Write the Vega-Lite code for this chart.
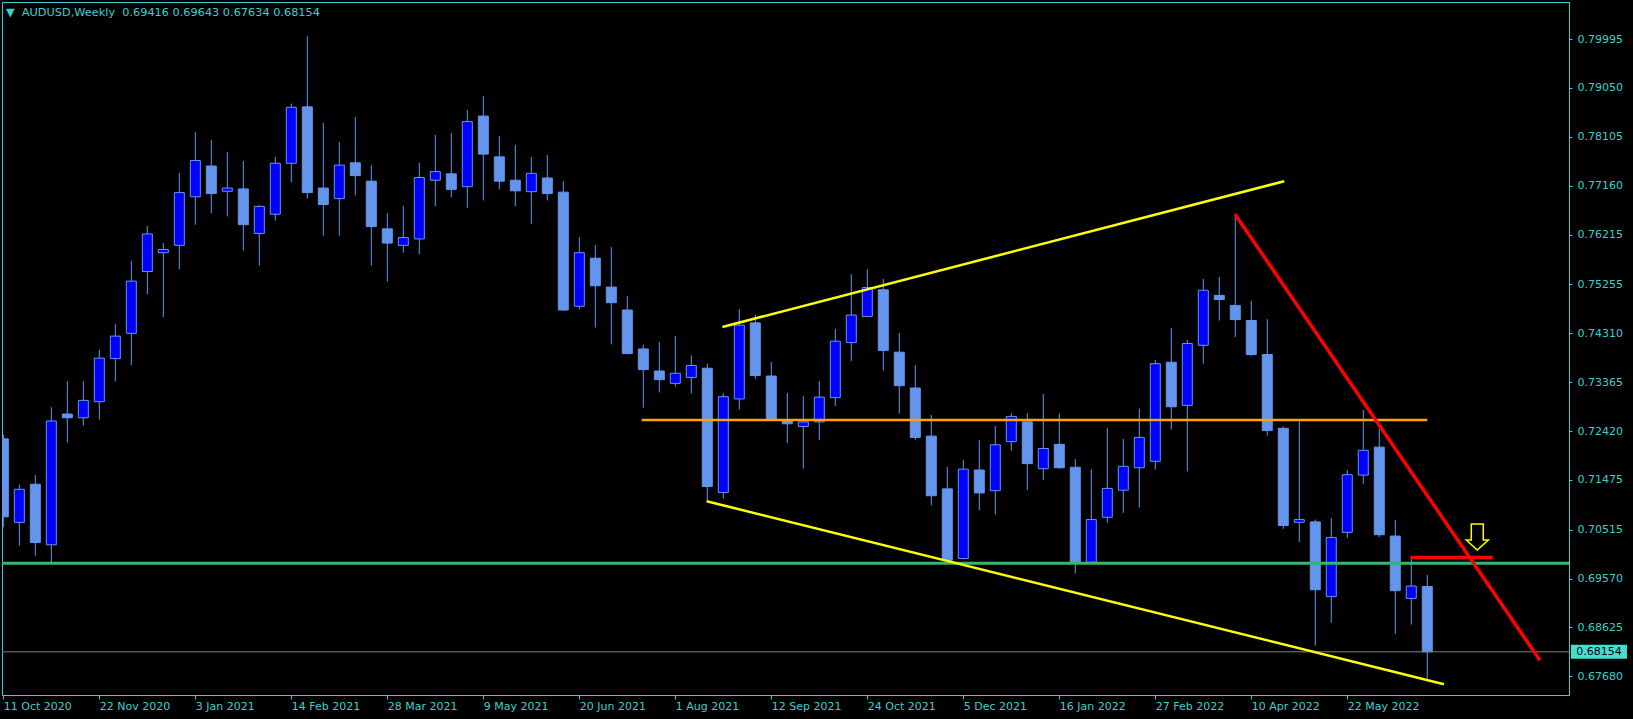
{
  "$schema": "https://vega.github.io/schema/vega-lite/v6.json",
  "width": 1567,
  "height": 693,
  "autosize": {"type": "none"},
  "padding": {"left": 2, "top": 2, "right": 64, "bottom": 24},
  "background": "#000000",
  "title": {
    "text": "▼\u00a0\u00a0AUDUSD,Weekly\u00a0\u00a00.69416 0.69643 0.67634 0.68154",
    "anchor": "start",
    "frame": "group",
    "orient": "top",
    "offset": -22,
    "dx": 4,
    "baseline": "middle",
    "font": "DejaVu Sans",
    "fontSize": 11.3,
    "fontWeight": "normal",
    "color": "#3ccfcf"
  },
  "config": {
    "view": {"stroke": "#3ccfcf", "strokeWidth": 1},
    "axis": {
      "labelFont": "DejaVu Sans",
      "labelFontSize": 11,
      "labelColor": "#3ccfcf",
      "domainColor": "#3ccfcf",
      "tickColor": "#3ccfcf",
      "grid": false,
      "title": null
    }
  },
  "datasets": {
    "candles": [
      {"d": "2020-10-11", "o": 0.72269, "h": 0.72349, "l": 0.70559, "c": 0.70763},
      {"d": "2020-10-18", "o": 0.70656, "h": 0.71387, "l": 0.70205, "c": 0.71294},
      {"d": "2020-10-25", "o": 0.71392, "h": 0.71569, "l": 0.70010, "c": 0.70267},
      {"d": "2020-11-01", "o": 0.70222, "h": 0.72880, "l": 0.69886, "c": 0.72615},
      {"d": "2020-11-08", "o": 0.72748, "h": 0.73385, "l": 0.72198, "c": 0.72677},
      {"d": "2020-11-15", "o": 0.72677, "h": 0.73385, "l": 0.72526, "c": 0.73013},
      {"d": "2020-11-22", "o": 0.72987, "h": 0.73988, "l": 0.72641, "c": 0.73829},
      {"d": "2020-11-29", "o": 0.73820, "h": 0.74484, "l": 0.73376, "c": 0.74254},
      {"d": "2020-12-06", "o": 0.74307, "h": 0.75707, "l": 0.73696, "c": 0.75317},
      {"d": "2020-12-13", "o": 0.75503, "h": 0.76380, "l": 0.75060, "c": 0.76229},
      {"d": "2020-12-20", "o": 0.75866, "h": 0.76052, "l": 0.74617, "c": 0.75928},
      {"d": "2020-12-27", "o": 0.76008, "h": 0.77408, "l": 0.75547, "c": 0.77027},
      {"d": "2021-01-03", "o": 0.76947, "h": 0.78196, "l": 0.76407, "c": 0.77647},
      {"d": "2021-01-10", "o": 0.77541, "h": 0.78046, "l": 0.76628, "c": 0.77009},
      {"d": "2021-01-17", "o": 0.77053, "h": 0.77815, "l": 0.76566, "c": 0.77115},
      {"d": "2021-01-24", "o": 0.77098, "h": 0.77638, "l": 0.75910, "c": 0.76407},
      {"d": "2021-01-31", "o": 0.76238, "h": 0.76788, "l": 0.75618, "c": 0.76761},
      {"d": "2021-02-07", "o": 0.76610, "h": 0.77718, "l": 0.76486, "c": 0.77594},
      {"d": "2021-02-14", "o": 0.77594, "h": 0.78746, "l": 0.77222, "c": 0.78675},
      {"d": "2021-02-21", "o": 0.78684, "h": 0.80048, "l": 0.76912, "c": 0.77027},
      {"d": "2021-02-28", "o": 0.77115, "h": 0.78374, "l": 0.76194, "c": 0.76797},
      {"d": "2021-03-07", "o": 0.76912, "h": 0.78001, "l": 0.76194, "c": 0.77558},
      {"d": "2021-03-14", "o": 0.77603, "h": 0.78489, "l": 0.76974, "c": 0.77355},
      {"d": "2021-03-21", "o": 0.77248, "h": 0.77558, "l": 0.75618, "c": 0.76371},
      {"d": "2021-03-28", "o": 0.76327, "h": 0.76628, "l": 0.75308, "c": 0.76052},
      {"d": "2021-04-04", "o": 0.76008, "h": 0.76770, "l": 0.75866, "c": 0.76159},
      {"d": "2021-04-11", "o": 0.76132, "h": 0.77603, "l": 0.75831, "c": 0.77319},
      {"d": "2021-04-18", "o": 0.77266, "h": 0.78143, "l": 0.76761, "c": 0.77434},
      {"d": "2021-04-25", "o": 0.77390, "h": 0.78179, "l": 0.76938, "c": 0.77089},
      {"d": "2021-05-02", "o": 0.77142, "h": 0.78622, "l": 0.76734, "c": 0.78400},
      {"d": "2021-05-09", "o": 0.78506, "h": 0.78896, "l": 0.76876, "c": 0.77771},
      {"d": "2021-05-16", "o": 0.77718, "h": 0.78117, "l": 0.77089, "c": 0.77248},
      {"d": "2021-05-23", "o": 0.77266, "h": 0.77948, "l": 0.76761, "c": 0.77062},
      {"d": "2021-05-30", "o": 0.77045, "h": 0.77718, "l": 0.76424, "c": 0.77399},
      {"d": "2021-06-06", "o": 0.77310, "h": 0.77753, "l": 0.76876, "c": 0.77009},
      {"d": "2021-06-13", "o": 0.77036, "h": 0.77248, "l": 0.74740, "c": 0.74759},
      {"d": "2021-06-20", "o": 0.74830, "h": 0.76168, "l": 0.74768, "c": 0.75866},
      {"d": "2021-06-27", "o": 0.75760, "h": 0.76017, "l": 0.74422, "c": 0.75228},
      {"d": "2021-07-04", "o": 0.75202, "h": 0.75973, "l": 0.74094, "c": 0.74900},
      {"d": "2021-07-11", "o": 0.74759, "h": 0.75024, "l": 0.73900, "c": 0.73917},
      {"d": "2021-07-18", "o": 0.74006, "h": 0.74085, "l": 0.72872, "c": 0.73607},
      {"d": "2021-07-25", "o": 0.73580, "h": 0.74139, "l": 0.73164, "c": 0.73412},
      {"d": "2021-08-01", "o": 0.73341, "h": 0.74254, "l": 0.73279, "c": 0.73536},
      {"d": "2021-08-08", "o": 0.73456, "h": 0.73882, "l": 0.73146, "c": 0.73687},
      {"d": "2021-08-15", "o": 0.73634, "h": 0.73722, "l": 0.71064, "c": 0.71348},
      {"d": "2021-08-22", "o": 0.71232, "h": 0.73146, "l": 0.71117, "c": 0.73084},
      {"d": "2021-08-29", "o": 0.73040, "h": 0.74776, "l": 0.72836, "c": 0.74466},
      {"d": "2021-09-05", "o": 0.74510, "h": 0.74670, "l": 0.73430, "c": 0.73492},
      {"d": "2021-09-12", "o": 0.73483, "h": 0.73757, "l": 0.72620, "c": 0.72632},
      {"d": "2021-09-19", "o": 0.72632, "h": 0.73155, "l": 0.72189, "c": 0.72561},
      {"d": "2021-09-26", "o": 0.72508, "h": 0.73093, "l": 0.71693, "c": 0.72597},
      {"d": "2021-10-03", "o": 0.72597, "h": 0.73385, "l": 0.72242, "c": 0.73075},
      {"d": "2021-10-10", "o": 0.73066, "h": 0.74395, "l": 0.72907, "c": 0.74156},
      {"d": "2021-10-17", "o": 0.74130, "h": 0.75450, "l": 0.73775, "c": 0.74661},
      {"d": "2021-10-24", "o": 0.74635, "h": 0.75547, "l": 0.74620, "c": 0.75193},
      {"d": "2021-10-31", "o": 0.75149, "h": 0.75361, "l": 0.73589, "c": 0.73979},
      {"d": "2021-11-07", "o": 0.73944, "h": 0.74316, "l": 0.72756, "c": 0.73297},
      {"d": "2021-11-14", "o": 0.73252, "h": 0.73695, "l": 0.72251, "c": 0.72296},
      {"d": "2021-11-21", "o": 0.72322, "h": 0.72730, "l": 0.70984, "c": 0.71170},
      {"d": "2021-11-28", "o": 0.71303, "h": 0.71729, "l": 0.69910, "c": 0.69921},
      {"d": "2021-12-05", "o": 0.69957, "h": 0.71861, "l": 0.69940, "c": 0.71684},
      {"d": "2021-12-12", "o": 0.71667, "h": 0.72242, "l": 0.70887, "c": 0.71224},
      {"d": "2021-12-19", "o": 0.71268, "h": 0.72517, "l": 0.70807, "c": 0.72154},
      {"d": "2021-12-26", "o": 0.72216, "h": 0.72765, "l": 0.72039, "c": 0.72703},
      {"d": "2022-01-02", "o": 0.72597, "h": 0.72765, "l": 0.71285, "c": 0.71791},
      {"d": "2022-01-09", "o": 0.71693, "h": 0.73137, "l": 0.71472, "c": 0.72083},
      {"d": "2022-01-16", "o": 0.72163, "h": 0.72756, "l": 0.71693, "c": 0.71711},
      {"d": "2022-01-23", "o": 0.71720, "h": 0.71879, "l": 0.69664, "c": 0.69886},
      {"d": "2022-01-30", "o": 0.69886, "h": 0.71684, "l": 0.69870, "c": 0.70710},
      {"d": "2022-02-06", "o": 0.70754, "h": 0.72482, "l": 0.70647, "c": 0.71312},
      {"d": "2022-02-13", "o": 0.71277, "h": 0.72269, "l": 0.70842, "c": 0.71738},
      {"d": "2022-02-20", "o": 0.71711, "h": 0.72854, "l": 0.70940, "c": 0.72296},
      {"d": "2022-02-27", "o": 0.71835, "h": 0.73793, "l": 0.71675, "c": 0.73722},
      {"d": "2022-03-06", "o": 0.73749, "h": 0.74413, "l": 0.72446, "c": 0.72889},
      {"d": "2022-03-13", "o": 0.72916, "h": 0.74183, "l": 0.71640, "c": 0.74112},
      {"d": "2022-03-20", "o": 0.74077, "h": 0.75361, "l": 0.73722, "c": 0.75140},
      {"d": "2022-03-27", "o": 0.75042, "h": 0.75397, "l": 0.74555, "c": 0.74962},
      {"d": "2022-04-03", "o": 0.74847, "h": 0.76619, "l": 0.74236, "c": 0.74573},
      {"d": "2022-04-10", "o": 0.74555, "h": 0.74936, "l": 0.73873, "c": 0.73899},
      {"d": "2022-04-17", "o": 0.73899, "h": 0.74581, "l": 0.72331, "c": 0.72429},
      {"d": "2022-04-24", "o": 0.72473, "h": 0.72508, "l": 0.70532, "c": 0.70594},
      {"d": "2022-05-01", "o": 0.70657, "h": 0.72615, "l": 0.70275, "c": 0.70710},
      {"d": "2022-05-08", "o": 0.70665, "h": 0.70710, "l": 0.68273, "c": 0.69354},
      {"d": "2022-05-15", "o": 0.69221, "h": 0.70736, "l": 0.68716, "c": 0.70364},
      {"d": "2022-05-22", "o": 0.70462, "h": 0.71667, "l": 0.70355, "c": 0.71578},
      {"d": "2022-05-29", "o": 0.71569, "h": 0.72827, "l": 0.71401, "c": 0.72048},
      {"d": "2022-06-05", "o": 0.72109, "h": 0.72455, "l": 0.70373, "c": 0.70417},
      {"d": "2022-06-12", "o": 0.70391, "h": 0.70701, "l": 0.68503, "c": 0.69336},
      {"d": "2022-06-19", "o": 0.69186, "h": 0.70001, "l": 0.68681, "c": 0.69425},
      {"d": "2022-06-26", "o": 0.69416, "h": 0.69643, "l": 0.67634, "c": 0.68154}
    ],
    "levels": [
      {"name": "support", "p": 0.69865},
      {"name": "last", "p": 0.68154}
    ],
    "lines": [
      {"id": "upper", "d": "2021-08-21T14:00:00Z", "p": 0.74431},
      {"id": "upper", "d": "2022-04-24T10:00:00Z", "p": 0.77248},
      {"id": "lower", "d": "2021-08-14T17:00:00Z", "p": 0.71064},
      {"id": "lower", "d": "2022-07-03T07:00:00Z", "p": 0.67529},
      {"id": "level", "d": "2021-07-17T07:00:00Z", "p": 0.72632},
      {"id": "level", "d": "2022-06-26T00:00:00Z", "p": 0.72632},
      {"id": "downtrend", "d": "2022-04-02T21:00:00Z", "p": 0.76610},
      {"id": "downtrend", "d": "2022-08-14T07:00:00Z", "p": 0.67991},
      {"id": "target", "d": "2022-06-18T17:00:00Z", "p": 0.69975},
      {"id": "target", "d": "2022-07-24T15:00:00Z", "p": 0.69975}
    ],
    "marker": [
      {"d": "2022-07-17T21:00:00Z", "p": 0.70373}
    ],
    "pricebox": [
      {"d": "2022-08-27T00:00:00Z", "p": 0.68154, "label": "0.68154"}
    ]
  },
  "layer": [
    {
      "data": {"name": "candles"},
      "mark": {"type": "rule", "color": "#6495ed", "strokeWidth": 1, "clip": true},
      "encoding": {
        "x": {
          "field": "d",
          "type": "temporal",
          "scale": {
            "type": "utc",
            "padding": 0,
            "domain": [
              {"year": 2020, "month": 10, "date": 10, "hours": 10, "utc": true},
              {"year": 2022, "month": 8, "date": 27, "utc": true}
            ]
          },
          "axis": {
            "orient": "bottom",
            "values": [
              {"year": 2020, "month": 10, "date": 11, "utc": true},
              {"year": 2020, "month": 11, "date": 22, "utc": true},
              {"year": 2021, "month": 1, "date": 3, "utc": true},
              {"year": 2021, "month": 2, "date": 14, "utc": true},
              {"year": 2021, "month": 3, "date": 28, "utc": true},
              {"year": 2021, "month": 5, "date": 9, "utc": true},
              {"year": 2021, "month": 6, "date": 20, "utc": true},
              {"year": 2021, "month": 8, "date": 1, "utc": true},
              {"year": 2021, "month": 9, "date": 12, "utc": true},
              {"year": 2021, "month": 10, "date": 24, "utc": true},
              {"year": 2021, "month": 12, "date": 5, "utc": true},
              {"year": 2022, "month": 1, "date": 16, "utc": true},
              {"year": 2022, "month": 2, "date": 27, "utc": true},
              {"year": 2022, "month": 4, "date": 10, "utc": true},
              {"year": 2022, "month": 5, "date": 22, "utc": true}
            ],
            "labelExpr": "utcFormat(datum.value, '%-d %b %Y')",
            "labelAlign": "left",
            "labelBaseline": "top",
            "labelFlush": false,
            "labelOverlap": false,
            "tickSize": 4,
            "labelPadding": 1
          }
        },
        "y": {
          "field": "l",
          "type": "quantitative",
          "scale": {"domain": [0.6732, 0.8071], "nice": false, "zero": false, "padding": 0},
          "axis": {
            "orient": "right",
            "values": [0.6768, 0.68625, 0.6957, 0.70515, 0.71475, 0.7242, 0.73365, 0.7431, 0.75255, 0.76215, 0.7716, 0.78105, 0.7905, 0.79995],
            "format": ".5f",
            "tickSize": 3,
            "labelPadding": 5,
            "labelBaseline": "middle",
            "labelFlush": false,
            "labelOverlap": false
          }
        },
        "y2": {"field": "h"}
      }
    },
    {
      "data": {"name": "candles"},
      "mark": {"type": "bar", "width": 10, "stroke": "#6495ed", "strokeWidth": 1, "clip": true},
      "encoding": {
        "x": {"field": "d", "type": "temporal"},
        "y": {"field": "o", "type": "quantitative"},
        "y2": {"field": "c"},
        "fill": {
          "condition": {"test": "datum.c >= datum.o", "value": "#0000ff"},
          "value": "#6495ed"
        }
      }
    },
    {
      "data": {"name": "levels"},
      "transform": [{"filter": "datum.name === 'last'"}],
      "mark": {"type": "rule", "color": "#808080", "strokeWidth": 1},
      "encoding": {"y": {"field": "p", "type": "quantitative"}}
    },
    {
      "data": {"name": "levels"},
      "transform": [{"filter": "datum.name === 'support'"}],
      "mark": {"type": "rule", "color": "#3cb371", "strokeWidth": 3},
      "encoding": {"y": {"field": "p", "type": "quantitative"}}
    },
    {
      "data": {"name": "lines"},
      "transform": [{"filter": "datum.id === 'level'"}],
      "mark": {"type": "line", "color": "#ffa500", "strokeWidth": 2.5},
      "encoding": {
        "x": {"field": "d", "type": "temporal"},
        "y": {"field": "p", "type": "quantitative"}
      }
    },
    {
      "data": {"name": "lines"},
      "transform": [{"filter": "datum.id === 'upper' || datum.id === 'lower'"}],
      "mark": {"type": "line", "color": "#ffff00", "strokeWidth": 2.5},
      "encoding": {
        "x": {"field": "d", "type": "temporal"},
        "y": {"field": "p", "type": "quantitative"},
        "detail": {"field": "id"}
      }
    },
    {
      "data": {"name": "lines"},
      "transform": [{"filter": "datum.id === 'downtrend' || datum.id === 'target'"}],
      "mark": {"type": "line", "color": "#ff0000", "strokeWidth": 3.5},
      "encoding": {
        "x": {"field": "d", "type": "temporal"},
        "y": {"field": "p", "type": "quantitative"},
        "detail": {"field": "id"}
      }
    },
    {
      "data": {"name": "marker"},
      "mark": {
        "type": "point",
        "shape": "M -0.46 -1 L 0.46 -1 L 0.46 0.23 L 0.85 0.23 L 0 1 L -0.85 0.23 L -0.46 0.23 Z",
        "size": 676,
        "filled": false,
        "stroke": "#ffff00",
        "strokeWidth": 1.5,
        "opacity": 1
      },
      "encoding": {
        "x": {"field": "d", "type": "temporal"},
        "y": {"field": "p", "type": "quantitative"}
      }
    },
    {
      "data": {"name": "pricebox"},
      "mark": {
        "type": "point",
        "shape": "M 0.07 -0.25 L 2.07 -0.25 L 2.07 0.25 L 0.07 0.25 Z",
        "size": 3136,
        "filled": true,
        "color": "#40e0d0",
        "opacity": 1
      },
      "encoding": {
        "x": {"field": "d", "type": "temporal"},
        "y": {"field": "p", "type": "quantitative"}
      }
    },
    {
      "data": {"name": "pricebox"},
      "mark": {
        "type": "text",
        "font": "DejaVu Sans",
        "fontSize": 11,
        "color": "#000000",
        "align": "center",
        "baseline": "middle",
        "dx": 30
      },
      "encoding": {
        "x": {"field": "d", "type": "temporal"},
        "y": {"field": "p", "type": "quantitative"},
        "text": {"field": "label"}
      }
    }
  ]
}
